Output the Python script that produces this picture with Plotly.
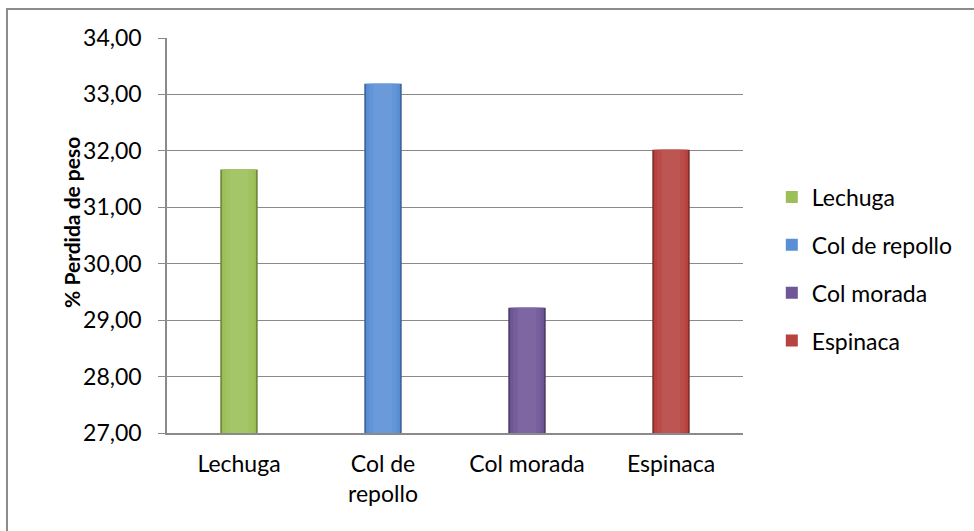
import plotly.graph_objects as go

# Weight loss per vegetable (%)
categories = ["Lechuga", "Col de repollo", "Col morada", "Espinaca"]
tick_text = ["Lechuga", "Col de<br>repollo", "Col morada", "Espinaca"]
perdida = [31.67, 33.19, 29.22, 32.02]
base_colors = ["#9cbf58", "#5a8fd6", "#6f5697", "#b6433f"]

y_ticks = [27, 28, 29, 30, 31, 32, 33, 34]


def shade(hex_color, f):
    """Blend towards white (f > 0) or black (f < 0)."""
    h = hex_color.lstrip("#")
    r, g, b = (int(h[i:i + 2], 16) for i in (0, 2, 4))
    if f >= 0:
        r, g, b = (int(c + (255 - c) * f) for c in (r, g, b))
    else:
        r, g, b = (int(c * (1 + f)) for c in (r, g, b))
    return f"#{r:02x}{g:02x}{b:02x}"


FONT = "Lato"
fig = go.Figure()

# dark outer rim of each column
fig.add_trace(go.Bar(
    x=categories, y=perdida, width=0.26,
    marker=dict(color=[shade(c, -0.28) for c in base_colors], line=dict(width=0)),
    showlegend=False, hoverinfo="skip",
))

# main body of each column (also the legend entries)
for i, (cat, val, col) in enumerate(zip(categories, perdida, base_colors)):
    fig.add_trace(go.Bar(
        x=[cat], y=[val], width=0.235, name=cat,
        marker=dict(color=col, line=dict(width=0)),
        legendgroup=f"g{i}",
    ))

# lighter core for a rounded look
for w, f in [(0.19, 0.05), (0.13, 0.10)]:
    fig.add_trace(go.Bar(
        x=categories, y=perdida, width=w,
        marker=dict(color=[shade(c, f) for c in base_colors], line=dict(width=0)),
        showlegend=False, hoverinfo="skip",
    ))

fig.update_layout(
    width=974, height=531,
    margin=dict(l=167, r=231, t=38, b=98),
    paper_bgcolor="white", plot_bgcolor="white",
    barmode="overlay",
    separators=",.",
    font=dict(family=FONT, size=23, color="#000000"),
    showlegend=True,
    legend=dict(
        x=1.05, y=0.652, xanchor="left", yanchor="top",
        font=dict(family=FONT, size=23, color="#000000"),
        tracegroupgap=15, bgcolor="rgba(0,0,0,0)",
    ),
    xaxis=dict(
        tickmode="array", tickvals=categories, ticktext=tick_text,
        showline=True, linecolor="#8a8a8a", linewidth=1.5,
        ticks="", showgrid=False, ticklabelstandoff=10,
        tickfont=dict(family=FONT, size=23),
    ),
    yaxis=dict(
        range=[27, 34], tickvals=y_ticks, tickformat=".2f",
        showline=True, linecolor="#8a8a8a", linewidth=1.5,
        ticks="outside", ticklen=7, tickcolor="#8a8a8a", tickwidth=1,
        showgrid=True, gridcolor="#8a8a8a", gridwidth=1.2,
        ticklabelstandoff=12,
        tickfont=dict(family=FONT, size=23),
        zeroline=False,
    ),
    annotations=[dict(
        text="<b>% Perdida de peso</b>", textangle=-90,
        xref="paper", yref="paper", x=-0.167, y=0.534,
        xanchor="center", yanchor="middle", showarrow=False,
        font=dict(family=FONT, size=21, color="#000000"),
    )],
    shapes=[dict(
        type="rect", xref="paper", yref="paper",
        x0=-0.2778, x1=2.0, y0=-1.0, y1=1.0734,
        line=dict(color="#8c8c8c", width=2), fillcolor="rgba(0,0,0,0)",
        layer="below",
    )],
)

fig.write_html("out.html")
